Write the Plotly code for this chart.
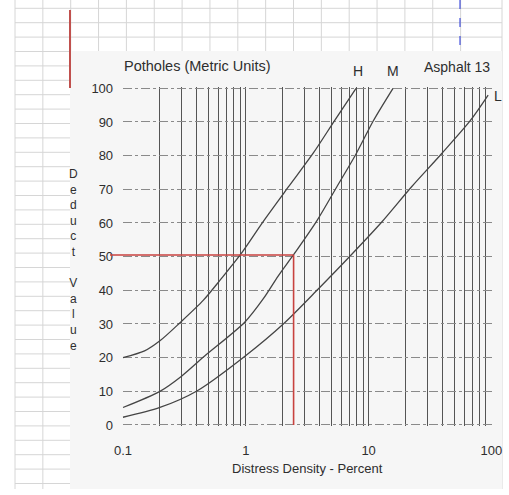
import plotly.graph_objects as go

# ---- data ----
density_h = [0.1, 0.15, 0.2, 0.29, 0.45, 0.62, 0.9, 1.39, 2.22, 3.55, 5.3, 7.9]
deduct_h = [20.0, 22.0, 25.0, 30.3, 37.0, 43.1, 50.5, 60.5, 70.7, 80.8, 90.5, 100.0]
density_m = [0.1, 0.2, 0.3, 0.46, 0.98, 1.39, 1.84, 2.44, 3.81, 5.5, 7.9, 10.9, 15.8]
deduct_m = [5.2, 10.0, 14.5, 20.4, 30.5, 37.5, 44.3, 50.5, 60.8, 70.7, 80.5, 90.3, 100.0]
density_l = [0.1, 0.2, 0.4, 0.99, 2.02, 3.89, 7.2, 12.8, 22.3, 39.1, 66.9, 94.0]
deduct_l = [2.3, 5.2, 10.1, 20.5, 30.0, 40.4, 50.5, 60.3, 70.7, 80.5, 90.3, 98.0]

curve_names = ["H", "M", "L"]

x_tick_values = [0.1, 0.2, 0.3, 0.4, 0.5, 0.6, 0.7, 0.8, 0.9,
                 1, 2, 3, 4, 5, 6, 7, 8, 9,
                 10, 20, 30, 40, 50, 60, 70, 80, 90, 100]
x_tick_labels = ["0.1", "", "", "", "", "", "", "", "",
                 "1", "", "", "", "", "", "", "", "",
                 "10", "", "", "", "", "", "", "", "",
                 "100"]
y_tick_values = [0, 10, 20, 30, 40, 50, 60, 70, 80, 90, 100]

marked_density = 2.45
marked_deduct = 50.5

# ---- figure geometry helpers (page pixels -> paper fractions) ----
W, H = 505, 489
def px(x):
    return x / W
def py(y):
    return 1 - y / H

FONT = "Liberation Sans, Arial, sans-serif"
INK = "#2e2e2e"

fig = go.Figure()

for name, xs, ys in zip(curve_names, [density_h, density_m, density_l],
                        [deduct_h, deduct_m, deduct_l]):
    fig.add_trace(go.Scatter(x=xs, y=ys, mode="lines", name=name,
                             line=dict(color="#454545", width=1.3, shape="spline", smoothing=0.8),
                             showlegend=False, hoverinfo="skip"))

shapes = []
# spreadsheet grid (background)
grid_col = "#d6d6d6"
col_x = [15 + 27.85 * k for k in range(17)] + [502]
row_y = [8.3 + 14.4 * k for k in range(35)]
for yy in row_y:
    shapes.append(dict(type="line", xref="paper", yref="paper", layer="below",
                       x0=px(15), x1=px(502), y0=py(yy), y1=py(yy),
                       line=dict(color=grid_col, width=1)))
for xx in col_x:
    shapes.append(dict(type="line", xref="paper", yref="paper", layer="below",
                       x0=px(xx), x1=px(xx), y0=py(0), y1=py(495),
                       line=dict(color=grid_col, width=1)))
# scanned chart image area
shapes.append(dict(type="rect", xref="paper", yref="paper", layer="below",
                   x0=px(70), x1=px(502), y0=py(51), y1=py(497),
                   fillcolor="#f6f6f6", line=dict(width=0)))
# red marker stroke at top-left and blue dashed page break
shapes.append(dict(type="line", xref="paper", yref="paper",
                   x0=px(70), x1=px(70), y0=py(10), y1=py(88),
                   line=dict(color="#c0504d", width=2)))
shapes.append(dict(type="line", xref="paper", yref="paper",
                   x0=px(460), x1=px(460), y0=py(0), y1=py(51),
                   line=dict(color="#1f2fd6", width=1, dash="dash")))
# red reading lines on chart
red = "#c8423f"
shapes.append(dict(type="line", xref="x", yref="y", layer="above",
                   x0=0.1, x1=marked_density, y0=marked_deduct, y1=marked_deduct,
                   line=dict(color=red, width=1.6)))
shapes.append(dict(type="line", xref="paper", yref="y", layer="above",
                   x0=px(110), x1=px(123), y0=marked_deduct, y1=marked_deduct,
                   line=dict(color=red, width=1.6)))
shapes.append(dict(type="line", xref="x", yref="y", layer="above",
                   x0=marked_density, x1=marked_density, y0=0, y1=marked_deduct,
                   line=dict(color=red, width=1.6)))

annotations = [
    dict(text="Potholes (Metric Units)", xref="paper", yref="paper",
         x=px(197), y=py(66), xanchor="center", yanchor="middle", showarrow=False,
         font=dict(family=FONT, size=14.5, color=INK)),
    dict(text="H", xref="paper", yref="paper", x=px(358), y=py(71),
         xanchor="center", yanchor="middle", showarrow=False,
         font=dict(family=FONT, size=14, color=INK)),
    dict(text="M", xref="paper", yref="paper", x=px(393), y=py(71),
         xanchor="center", yanchor="middle", showarrow=False,
         font=dict(family=FONT, size=14, color=INK)),
    dict(text="Asphalt 13", xref="paper", yref="paper", x=px(456.5), y=py(67),
         xanchor="center", yanchor="middle", showarrow=False,
         font=dict(family=FONT, size=14, color=INK)),
    dict(text="L", xref="paper", yref="paper", x=px(498), y=py(96),
         xanchor="center", yanchor="middle", showarrow=False,
         font=dict(family=FONT, size=14, color=INK)),
    dict(text="D<br>e<br>d<br>u<br>c<br>t<br> <br>V<br>a<br>l<br>u<br>e",
         xref="paper", yref="paper", x=px(73), y=py(260),
         xanchor="center", yanchor="middle", showarrow=False,
         font=dict(family=FONT, size=12, color=INK)),
    dict(text="Distress Density - Percent", xref="paper", yref="paper",
         x=px(307), y=py(468), xanchor="center", yanchor="middle", showarrow=False,
         font=dict(family=FONT, size=13, color=INK)),
]

fig.update_layout(
    width=W, height=H,
    margin=dict(l=0, r=0, t=0, b=0, autoexpand=False),
    paper_bgcolor="white",
    plot_bgcolor="rgba(0,0,0,0)",
    shapes=shapes,
    annotations=annotations,
    xaxis=dict(type="log", range=[-1.002, 2.002],
               domain=[px(122.7), px(491.7)], automargin=False,
               tickvals=x_tick_values, ticktext=x_tick_labels,
               showgrid=True, gridcolor="#555555", gridwidth=1,
               zeroline=False, showline=False,
               ticks="outside", ticklen=12, tickcolor="rgba(0,0,0,0)",
               tickfont=dict(family=FONT, size=13, color=INK)),
    yaxis=dict(range=[-0.3, 100.3],
               domain=[py(426), py(87.3)], automargin=False,
               tickvals=y_tick_values,
               showgrid=True, gridcolor="#8a8a8a", gridwidth=1, griddash="dashdot",
               zeroline=False, showline=False,
               ticks="outside", ticklen=6, tickcolor="rgba(0,0,0,0)",
               tickfont=dict(family=FONT, size=13, color=INK)),
)

fig.write_html("out.html")
